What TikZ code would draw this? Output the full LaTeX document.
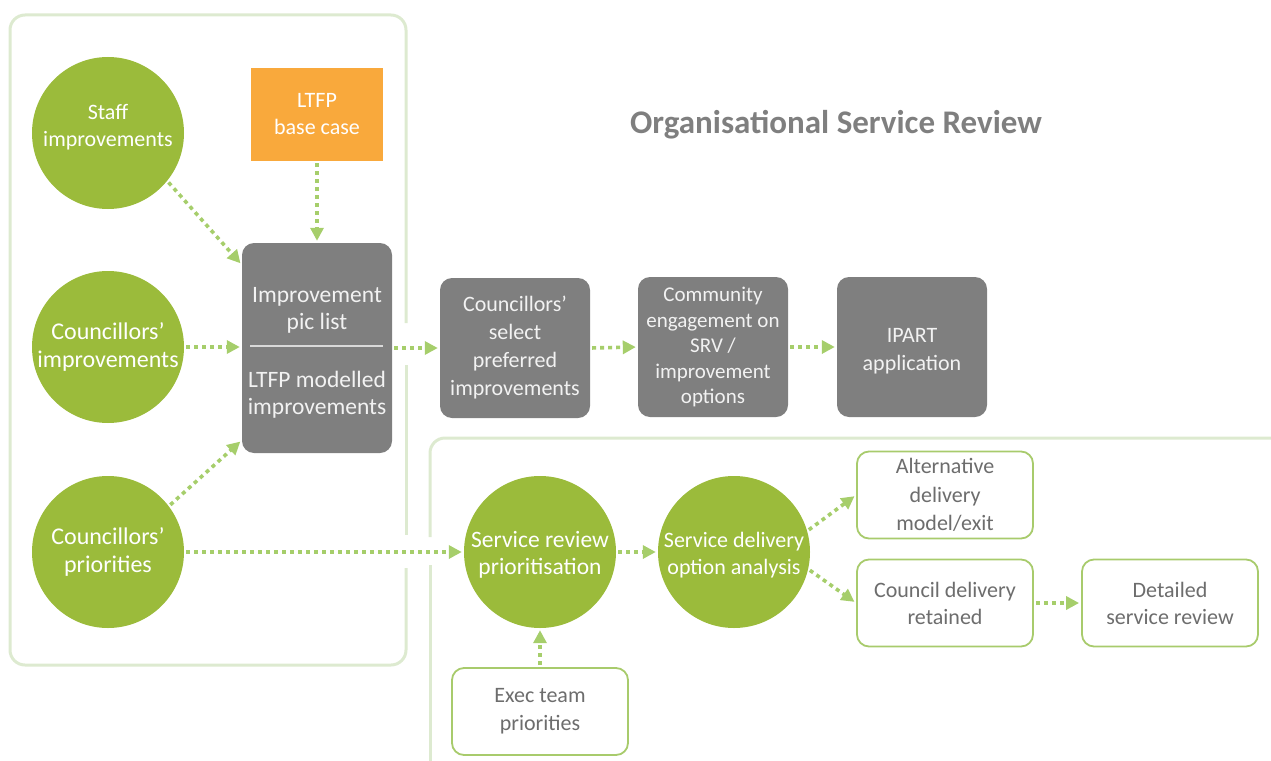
\documentclass[tikz,border=0pt]{standalone}
\usepackage{fontspec}
\setmainfont{Carlito}
\usetikzlibrary{arrows.meta,calc}

\definecolor{leaf}{HTML}{9BBB3B}
\definecolor{flowgreen}{HTML}{A6CE6B}
\definecolor{framegreen}{HTML}{DDEAD0}
\definecolor{boxline}{HTML}{A8CB6C}
\definecolor{slate}{HTML}{7F7F7F}
\definecolor{amber}{HTML}{F9A93C}
\definecolor{inkgray}{HTML}{6D6D6D}
\definecolor{titlegray}{HTML}{7F7F7F}

\begin{document}
\begin{tikzpicture}[x=1pt,y=-1pt,
  bodyfont/.style={font=\fontsize{22}{27}\selectfont},
  bigfont/.style={font=\fontsize{24}{28}\selectfont},
  bubble/.style={circle, fill=leaf, minimum size=152pt, inner sep=0pt,
    text=white, align=center, bodyfont},
  darkbox/.style={rectangle, rounded corners=12pt, fill=slate,
    minimum width=150pt, minimum height=140pt, inner sep=0pt,
    text=white!95!black, align=center, bodyfont},
  boxtext/.style={text=white!95!black, align=center,
    font=\fontsize{23.5}{27}\selectfont},
  outlinebox/.style={rectangle, rounded corners=12pt, draw=boxline,
    line width=1.8pt, fill=white, text=inkgray, align=center,
    minimum width=176pt, minimum height=87pt, inner sep=0pt, bodyfont},
  flow/.style={draw=flowgreen, line width=3.6pt, dash pattern=on 4pt off 4pt,
    -{Triangle[length=13pt,width=13pt]}, shorten <=2pt, shorten >=2pt},
  frame/.style={draw=framegreen, line width=3pt, line join=round}
]
\useasboundingbox (0,0) rectangle (1271,760);
\clip (0,0) rectangle (1271,760);

% group outlines, left open where the flows pass through
\draw[frame, rounded corners=15pt]
  (406,323) -- (406,15) -- (10,15) -- (10,665) -- (406,665) -- (406,568);
\draw[frame] (406,365) -- (406,535);
\draw[frame, rounded corners=15pt] (1290,438) -- (430,438) -- (430,537);
\draw[frame] (430,565) -- (430,780);

% title
\node[text=titlegray, font=\fontsize{33}{40}\selectfont\bfseries]
  (title) at (836,125) {Organisational Service Review};

% inputs
\node[bubble] (staff) at (108,133) {};
\node[text=white, align=center, bodyfont] (stafftext) at (108,127)
  {Staff\\improvements};
\node[bubble, bigfont] (cimp) at (108,347) {Councillors’\\improvements};
\node[bubble, bigfont] (cpri) at (108,552) {Councillors’\\priorities};
\node[rectangle, fill=amber, minimum width=132pt, minimum height=93pt,
  inner sep=0pt, text=white, align=center, bodyfont]
  (ltfp) at (317,114.5) {LTFP\\base case};

% improvement list
\node[darkbox, minimum height=210pt] (pick) at (317,348) {};
\node[boxtext] (picktop) at (317,310) {Improvement\\pic list};
\node[boxtext] (pickbot) at (317,395) {LTFP modelled\\improvements};
\draw[white!85!black, line width=1.6pt] (250,346) -- (383,346);

% SRV path
\node[darkbox, font=\fontsize{22}{28}\selectfont] (select) at (515,348)
  {Councillors’\\select\\preferred\\improvements};
\node[darkbox, font=\fontsize{21}{25.5}\selectfont] (engage) at (713,347)
  {Community\\engagement on\\SRV /\\improvement\\options};
\node[rectangle, rounded corners=12pt, fill=slate, minimum width=150pt,
  minimum height=140pt] (ipart) at (912,347) {};
\node[text=white!95!black, align=center, font=\fontsize{22}{28}\selectfont]
  (iparttext) at (912,351) {IPART\\application};

% service review path
\node[bubble] (srp) at (540,552) {};
\node[text=white, align=center, font=\fontsize{23.5}{27}\selectfont]
  (srptext) at (540,555) {Service review\\prioritisation};
\node[bubble] (sdoa) at (734,552) {};
\node[text=white, align=center, bodyfont]
  (sdoatext) at (734,555) {Service delivery\\option analysis};
\node[outlinebox, font=\fontsize{22}{28}\selectfont] (exec) at (540,711.5)
  {Exec team\\priorities};
\node[outlinebox, font=\fontsize{22}{28.5}\selectfont] (alt) at (945,495)
  {Alternative\\delivery\\model/exit};
\node[outlinebox] (cdr) at (945,603) {Council delivery\\retained};
\node[outlinebox] (dsr) at (1170,603) {Detailed\\service review};

% flows
\draw[flow] (staff.-39) -- ([yshift=-22pt]pick.north west);
\draw[flow] (ltfp.south) -- (pick.north);
\draw[flow] (cimp.east) -- (cimp.east -| pick.west);
\draw[flow] (cpri.37) -- ([yshift=13pt]pick.south west);
\draw[flow] (cpri.east) -- (srp.west);
\draw[flow] (pick.east |- select.west) -- (select.west);
\draw[flow] (select.east) -- (engage.west);
\draw[flow] (engage.east) -- (ipart.west);
\draw[flow] (srp.east) -- (sdoa.west);
\draw[flow] (exec.north) -- (srp.south);
\draw[flow] (sdoa.16) -- (alt.west);
\draw[flow] (sdoa.-13) -- (cdr.west);
\draw[flow] (cdr.east) -- (dsr.west);
\end{tikzpicture}
\end{document}
